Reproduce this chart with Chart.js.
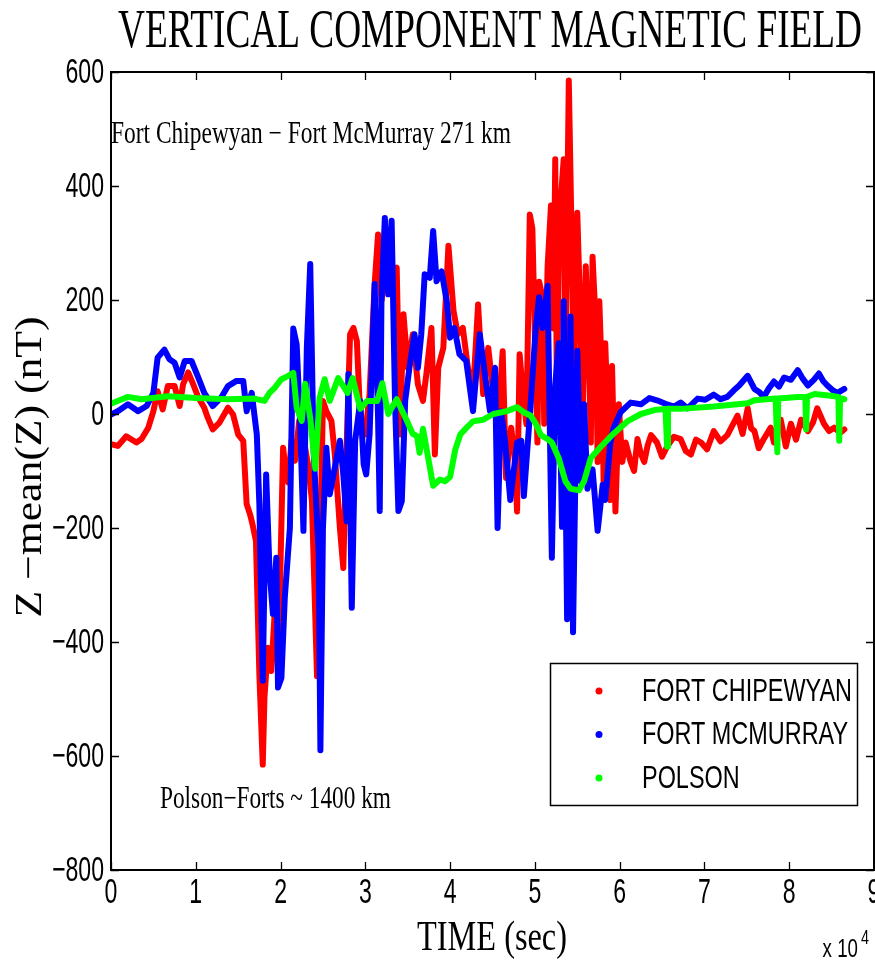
<!DOCTYPE html>
<html>
<head>
<meta charset="utf-8">
<script src="https://cdn.jsdelivr.net/npm/chart.js@4.4.1/dist/chart.umd.min.js"></script>
<style>
  html, body { margin: 0; padding: 0; background: #fff; }
  #wrap { width: 875px; height: 962px; }
</style>
</head>
<body>
<div id="wrap"><canvas id="chart" width="875" height="962"></canvas></div>
<script>
// time in units of 10^4 sec, values in nT
const chipTime = [0.00, 0.08, 0.18, 0.30, 0.36, 0.44, 0.50, 0.55, 0.61, 0.67, 0.75, 0.81, 0.85, 0.91, 0.97,
  1.03, 1.10, 1.14, 1.20, 1.28, 1.38, 1.44, 1.50, 1.56, 1.60, 1.64, 1.67, 1.71, 1.75, 1.79, 1.81, 1.85, 1.89,
  1.93, 1.97, 2.00, 2.03, 2.06, 2.09, 2.13, 2.17, 2.22, 2.27, 2.33, 2.37, 2.41, 2.43, 2.47, 2.50, 2.54, 2.60,
  2.64, 2.70, 2.74, 2.76, 2.82, 2.86, 2.90, 2.94, 3.00, 3.05, 3.11, 3.15, 3.19, 3.25, 3.31, 3.37, 3.41, 3.45,
  3.50, 3.56, 3.62, 3.68, 3.72, 3.78, 3.82, 3.86, 3.92, 3.98, 4.04, 4.09, 4.15, 4.21, 4.27, 4.33, 4.39, 4.45,
  4.51, 4.56, 4.62, 4.66, 4.72, 4.76, 4.79, 4.82, 4.86, 4.90, 4.94, 4.97, 5.03, 5.05, 5.09, 5.11, 5.15, 5.19,
  5.22, 5.24, 5.26, 5.28, 5.31, 5.34, 5.36, 5.40, 5.44, 5.46, 5.50, 5.54, 5.56, 5.60, 5.64, 5.66, 5.68, 5.72,
  5.74, 5.76, 5.80, 5.81, 5.83, 5.87, 5.89, 5.91, 5.95, 5.99, 6.03, 6.07, 6.13, 6.17, 6.21, 6.25, 6.29, 6.33,
  6.37, 6.44, 6.50, 6.56, 6.64, 6.72, 6.78, 6.84, 6.90, 6.96, 7.03, 7.11, 7.19, 7.27, 7.33, 7.39, 7.45, 7.51,
  7.55, 7.59, 7.64, 7.70, 7.78, 7.82, 7.86, 7.90, 7.96, 8.02, 8.08, 8.14, 8.22, 8.28, 8.33, 8.41, 8.47, 8.53,
  8.60, 8.65];
const chipZ = [-53, -56, -39, -50, -44, -24, 5, 40, 8, 49, 49, 14, 52, 73, 52,
  29, 11, -6, -27, -15, 11, -1, -36, -47, -158, -176, -194, -223, -457, -615, -498, -410, -451,
  -351, -439, -260, -59, -100, -120, -47, -82, -12, -42, -94, -153, -357, -460, -211, 23, 5, -12,
  -71, -200, -270, -153, 140, 151, 128, -6, -36, 35, 228, 315, 198, 257, 228, 257, -36, 175,
  81, 140, 52, 23, 70, 151, -71, 81, 116, 295, 181, 140, 151, 81, 35, 192, 35, 116,
  35, -24, 110, -112, -24, -71, -171, 105, 35, -18, 350, 326, -50, 232, 205, -17, 259, 366,
  150, 447, 17, 265, 385, 447, 84, 585, 252, 30, 353, 151, -24, 259, 84, -50, 276, 151,
  -84, 198, 17, -118, 124, -50, -151, 84, -171, 17, -84, -50, -84, -100, -44, -70, -84, -55,
  -37, -50, -75, -57, -40, -44, -65, -71, -45, -50, -62, -30, -48, -37, -20, -3, -35, 10,
  -25, -30, -60, -44, -24, -50, -20, -10, -57, -17, -45, -10, -30, -15, 10, -17, -30, -24,
  -33, -27];

const mcmTime = [0.00, 0.08, 0.20, 0.32, 0.42, 0.50, 0.55, 0.63, 0.69, 0.75, 0.81, 0.87, 0.95, 1.03, 1.10,
  1.20, 1.30, 1.38, 1.48, 1.56, 1.60, 1.66, 1.72, 1.75, 1.79, 1.83, 1.87, 1.91, 1.95, 1.97, 2.01, 2.05, 2.11,
  2.15, 2.19, 2.23, 2.27, 2.31, 2.35, 2.39, 2.45, 2.47, 2.50, 2.54, 2.58, 2.64, 2.70, 2.74, 2.78, 2.80, 2.84,
  2.88, 2.94, 2.98, 3.01, 3.05, 3.11, 3.15, 3.17, 3.19, 3.23, 3.27, 3.31, 3.35, 3.39, 3.43, 3.47, 3.52, 3.58,
  3.62, 3.66, 3.70, 3.76, 3.80, 3.84, 3.90, 3.96, 4.00, 4.05, 4.11, 4.19, 4.27, 4.35, 4.41, 4.47, 4.53, 4.56,
  4.60, 4.65, 4.71, 4.79, 4.84, 4.87, 4.95, 5.01, 5.05, 5.09, 5.15, 5.20, 5.24, 5.28, 5.32, 5.34, 5.38, 5.42,
  5.45, 5.50, 5.54, 5.58, 5.62, 5.68, 5.74, 5.80, 5.83, 5.89, 5.93, 6.01, 6.13, 6.25, 6.35, 6.44, 6.54, 6.64,
  6.72, 6.80, 6.92, 7.01, 7.11, 7.19, 7.27, 7.35, 7.41, 7.51, 7.59, 7.65, 7.70, 7.76, 7.82, 7.88, 7.94, 8.02,
  8.10, 8.16, 8.22, 8.29, 8.35, 8.40, 8.45, 8.51, 8.57, 8.65];
const mcmZ = [-1, 5, 17, 5, 14, 37, 99, 113, 96, 90, 64, 93, 93, 64, 37,
  14, 29, 49, 58, 58, 5, 37, -36, -158, -468, -106, -275, -351, -252, -480, -463, -322, -200,
  150, 122, -12, -205, 116, 263, -65, -246, -590, -200, -59, -141, -94, -47, -106, -188, 70, -340,
  -47, 23, -88, -106, -36, 228, -6, -170, 198, 344, 210, 339, 23, -170, -153, 23, 81, 140,
  81, 140, 245, 239, 321, 233, 250, 198, 134, 151, 105, 93, 5, 140, 70, 5, 81, -200,
  5, -50, -151, -50, -47, -144, 17, 151, 205, 151, 225, -252, 50, 124, -198, 198, -360, 171,
  -383, 111, -118, 17, -131, -97, -205, -124, -151, -50, -24, 3, 20, 17, 28, 24, 18, 13,
  20, 10, 27, 25, 34, 26, 30, 42, 50, 67, 44, 38, 30, 45, 57, 48, 64, 60,
  77, 62, 50, 60, 71, 58, 50, 42, 37, 44];

const polTime = [0.00, 0.10, 0.20, 0.36, 0.67, 1.00, 1.38, 1.69, 1.81, 1.87, 1.93, 2.01, 2.08, 2.15, 2.19,
  2.25, 2.29, 2.35, 2.41, 2.46, 2.52, 2.58, 2.68, 2.79, 2.85, 2.94, 3.02, 3.14, 3.20, 3.27, 3.37, 3.49, 3.56,
  3.61, 3.64, 3.68, 3.80, 3.88, 3.94, 4.00, 4.06, 4.12, 4.20, 4.27, 4.39, 4.51, 4.67, 4.79, 4.87, 4.95, 5.01,
  5.07, 5.15, 5.20, 5.28, 5.36, 5.42, 5.52, 5.58, 5.66, 5.78, 5.93, 6.09, 6.25, 6.41, 6.54, 6.56, 6.57, 6.72,
  7.11, 7.51, 7.59, 7.84, 7.86, 7.87, 8.10, 8.19, 8.20, 8.21, 8.30, 8.49, 8.58, 8.59, 8.60, 8.65];
const polZ = [18, 24, 30, 26, 31, 28, 26, 27, 23, 37, 46, 61, 66, 72, 11,
  -12, 53, -7, -96, 28, 61, 23, 63, 37, 63, 9, 23, 23, 54, 0, 26, -12, -35,
  -39, -68, -26, -126, -115, -118, -110, -63, -36, -23, -13, -10, 0, 5, 12, 3, -3, -17,
  -37, -44, -50, -77, -118, -131, -134, -118, -77, -57, -34, -13, 0, 7, 9, -57, 9, 9,
  13, 19, 24, 27, -67, 27, 30, 30, -27, 30, 35, 32, 30, -47, 28, 26];

const seriesNames = ['FORT CHIPEWYAN', 'FORT MCMURRAY', 'POLSON'];
const seriesColors = ['#ff0000', '#0000ff', '#00ff00'];
const xTicks = [0, 1, 2, 3, 4, 5, 6, 7, 8, 9];
const yTicks = [-800, -600, -400, -200, 0, 200, 400, 600];

function toPoints(ts, zs) {
  return ts.map((t, i) => ({ x: t, y: zs[i] }));
}

// draw text squeezed horizontally to a given width (the original figure is stretched tall)
function squeezedText(ctx, text, x, y, size, family, width, align) {
  ctx.save();
  ctx.font = size + 'px ' + family;
  const w = ctx.measureText(text).width;
  const sx = width / w;
  ctx.translate(x, y);
  ctx.scale(sx, 1);
  ctx.textAlign = align || 'left';
  ctx.fillText(text, 0, 0);
  ctx.restore();
}

function scaledText(ctx, text, x, y, size, family, sx, align, baseline) {
  ctx.save();
  ctx.font = size + 'px ' + family;
  ctx.translate(x, y);
  ctx.scale(sx, 1);
  ctx.textAlign = align || 'left';
  ctx.textBaseline = baseline || 'alphabetic';
  ctx.fillText(text, 0, 0);
  ctx.restore();
}

const matlabAxes = {
  id: 'matlabAxes',
  afterDraw(chart) {
    const ctx = chart.ctx;
    const a = chart.chartArea;
    const xs = chart.scales.x, ys = chart.scales.y;
    const serif = '"Liberation Serif", "Times New Roman", serif';
    const sans = '"Liberation Sans", Arial, sans-serif';
    ctx.save();
    ctx.fillStyle = '#000';
    ctx.strokeStyle = '#000';

    // box
    ctx.lineWidth = 2;
    ctx.strokeRect(a.left, a.top, a.right - a.left, a.bottom - a.top);

    // ticks (inside, all four sides)
    ctx.lineWidth = 1.3;
    const tl = 8;
    ctx.beginPath();
    xTicks.forEach(v => {
      const px = Math.round(xs.getPixelForValue(v)) + 0.5;
      ctx.moveTo(px, a.bottom); ctx.lineTo(px, a.bottom - tl);
      ctx.moveTo(px, a.top); ctx.lineTo(px, a.top + tl);
    });
    yTicks.forEach(v => {
      const py = Math.round(ys.getPixelForValue(v)) + 0.5;
      ctx.moveTo(a.left, py); ctx.lineTo(a.left + tl, py);
      ctx.moveTo(a.right, py); ctx.lineTo(a.right - tl, py);
    });
    ctx.stroke();

    // tick labels
    xTicks.forEach(v => {
      scaledText(ctx, String(v), xs.getPixelForValue(v), a.bottom + 23, 35, sans, 0.66, 'center', 'middle');
    });
    yTicks.forEach(v => {
      const s = v < 0 ? '\u2212' + Math.abs(v) : String(v);
      scaledText(ctx, s, a.left - 7, ys.getPixelForValue(v) + 1, 35, sans, 0.66, 'right', 'middle');
    });
    scaledText(ctx, 'x 10', 858, 957, 26, sans, 0.72, 'right');
    scaledText(ctx, '4', 861, 944, 20, sans, 0.72, 'left');

    // titles
    squeezedText(ctx, 'VERTICAL COMPONENT MAGNETIC FIELD', 490, 47, 54, serif, 744, 'center');
    squeezedText(ctx, 'TIME (sec)', 492, 950, 42, serif, 150, 'center');
    ctx.save();
    ctx.translate(41, 467);
    ctx.rotate(-Math.PI / 2);
    squeezedText(ctx, 'Z \u2212mean(Z) (nT)', 0, 0, 38, serif, 301, 'center');
    ctx.restore();

    // annotations
    squeezedText(ctx, 'Fort Chipewyan \u2212 Fort McMurray 271 km', 111, 143, 31, serif, 400, 'left');
    squeezedText(ctx, 'Polson\u2212Forts ~ 1400 km', 160, 808, 31, serif, 231, 'left');

    // legend
    const lx = 550, ly = 663, lw = 307, lh = 142;
    ctx.fillStyle = '#fff';
    ctx.fillRect(lx, ly, lw, lh);
    ctx.lineWidth = 1.5;
    ctx.strokeRect(lx + 0.5, ly + 0.5, lw, lh);
    ctx.font = '31px ' + sans;
    const lsx = 210 / ctx.measureText(seriesNames[0]).width;
    seriesNames.forEach((name, i) => {
      const cy = 691 + i * 43.5;
      ctx.fillStyle = seriesColors[i];
      ctx.beginPath();
      ctx.arc(599, cy, 3.5, 0, Math.PI * 2);
      ctx.fill();
      ctx.fillStyle = '#000';
      scaledText(ctx, name, 642, cy + 1, 31, sans, lsx, 'left', 'middle');
    });
    ctx.restore();
  }
};

const datasets = [
  { label: seriesNames[0], data: toPoints(chipTime, chipZ), order: 3 },
  { label: seriesNames[1], data: toPoints(mcmTime, mcmZ), order: 2 },
  { label: seriesNames[2], data: toPoints(polTime, polZ), order: 1 }
].map((d, i) => Object.assign(d, {
  borderColor: seriesColors[i],
  backgroundColor: seriesColors[i],
  borderWidth: 6,
  pointRadius: 0,
  tension: 0,
  fill: false,
  borderJoinStyle: 'round',
  borderCapStyle: 'round'
}));

new Chart(document.getElementById('chart').getContext('2d'), {
  type: 'line',
  data: { datasets: datasets },
  options: {
    responsive: false,
    devicePixelRatio: 1,
    animation: false,
    layout: { padding: { left: 111, top: 72, right: 1, bottom: 92 } },
    scales: {
      x: { type: 'linear', min: 0, max: 9, display: false },
      y: { type: 'linear', min: -800, max: 600, display: false }
    },
    plugins: {
      legend: { display: false },
      tooltip: { enabled: false },
      title: { display: false }
    }
  },
  plugins: [matlabAxes]
});
</script>
</body>
</html>
